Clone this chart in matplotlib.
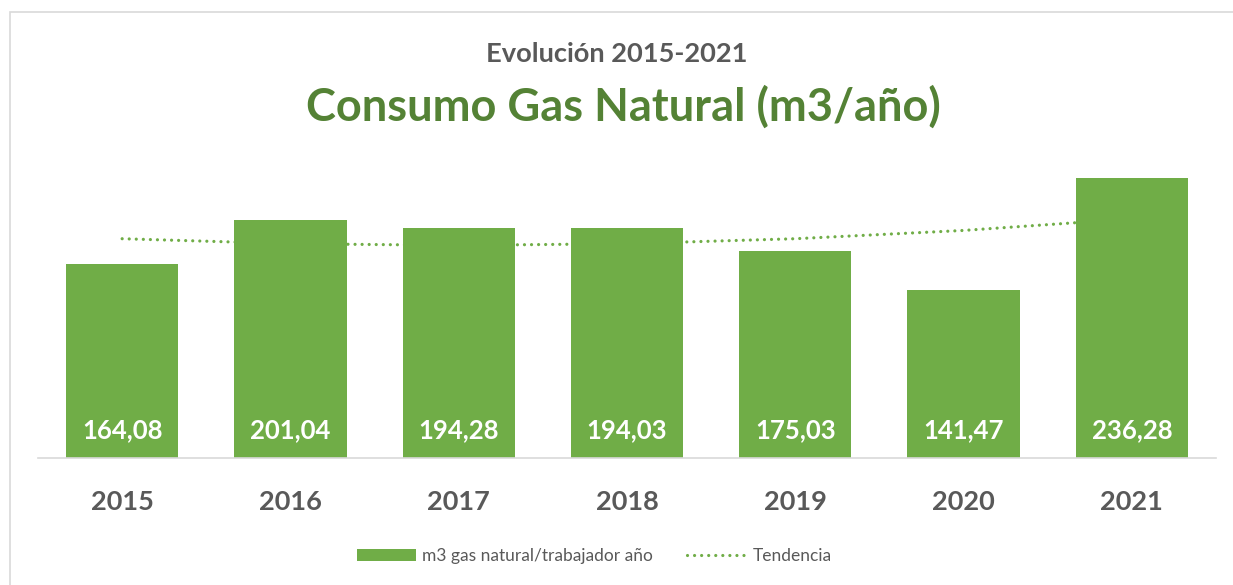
import matplotlib.pyplot as plt
import matplotlib.patches as mpatches
from matplotlib.lines import Line2D
import numpy as np

# Data
years = ['2015', '2016', '2017', '2018', '2019', '2020', '2021']
consumo = [164.08, 201.04, 194.28, 194.03, 175.03, 141.47, 236.28]
etiquetas = ['164,08', '201,04', '194,28', '194,03', '175,03', '141,47', '236,28']
tendencia = [185.2, 181.0, 179.6, 181.0, 185.2, 192.2, 202.0]

verde = '#70AD47'
verde_titulo = '#548235'
gris = '#595959'
font = 'Lato'
dots = (0, (0.01, 2.2))

W, H = 1233, 585
fig = plt.figure(figsize=(W / 100, H / 100), dpi=100)
fig.patch.set_facecolor('white')

# chart-area border (only top and left visible in the crop)
x0 = 9.5 / W
y1 = 1 - 11.5 / H
fig.add_artist(mpatches.Rectangle((x0, -0.1), 2, y1 + 0.1, transform=fig.transFigure,
                                  fill=False, edgecolor='#D9D9D9', lw=1.2, clip_on=False))

ax = fig.add_axes([38 / W, 127 / H, 1178 / W, 296 / H])
x = np.arange(len(years))

ax.plot(x, tendencia, color=verde, lw=2.3, linestyle=dots,
        dash_capstyle='round', zorder=1)
ax.bar(x, consumo, width=0.667, color=verde, zorder=2)

for xi, lab in zip(x, etiquetas):
    ax.annotate(lab, xy=(xi, 0), xytext=(0, 20), textcoords='offset pixels',
                ha='center', va='baseline', color='white', fontsize=18.5,
                fontweight='bold', family=font, zorder=3)

ax.set_xlim(-0.5, 6.5)
ax.set_ylim(0, 250)
ax.set_yticks([])
ax.set_xticks(x, years)
ax.tick_params(axis='x', length=0, pad=37.4)
for t in ax.get_xticklabels():
    t.set_fontsize(19.5)
    t.set_fontweight('bold')
    t.set_color(gris)
    t.set_family(font)
    t.set_verticalalignment('baseline')
for s in ['top', 'left', 'right']:
    ax.spines[s].set_visible(False)
ax.spines['bottom'].set_color('#D9D9D9')
ax.spines['bottom'].set_linewidth(1.2)

fig.text(617 / W, 1 - 62 / H, 'Evolución 2015-2021', ha='center', va='baseline',
         fontsize=19.6, fontweight='bold', color=gris, family=font)
fig.text(623 / W, 1 - 121 / H, 'Consumo Gas Natural (m3/año)', ha='center', va='baseline',
         fontsize=32.5, fontweight='bold', color=verde_titulo, family=font)

handles = [mpatches.Patch(facecolor=verde, edgecolor='none'),
           Line2D([], [], color=verde, lw=2.3, linestyle=dots, dash_capstyle='round')]
leg = fig.legend(handles, ['m3 gas natural/trabajador año', 'Tendencia'],
                 loc='center', bbox_to_anchor=(594 / W, 1 - 556 / H), ncol=2,
                 frameon=False, handlelength=3.4, handleheight=0.7, handletextpad=0.35,
                 columnspacing=2.0, prop={'family': font, 'size': 12.5})
for t in leg.get_texts():
    t.set_color(gris)

fig.savefig('out.png', dpi=100, facecolor='white')
